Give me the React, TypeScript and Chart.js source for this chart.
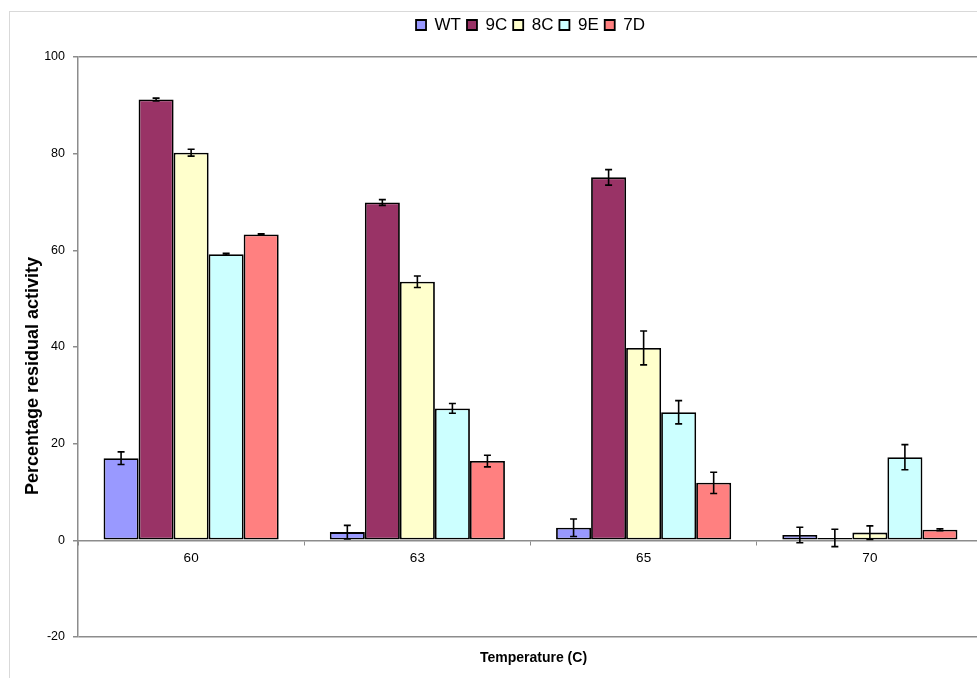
import { useEffect, useRef } from "react";
import { Chart, registerables } from "chart.js";

Chart.register(...registerables);

const categories = ["60", "63", "65", "70"];
const seriesNames = ["WT", "9C", "8C", "9E", "7D"];
const wtValues = [17.0, 1.7, 2.6, 1.1];
const c9Values = [91.2, 69.9, 75.1, 0.5];
const c8Values = [80.2, 53.5, 39.8, 1.6];
const e9Values = [59.2, 27.3, 26.5, 17.2];
const d7Values = [63.3, 16.4, 11.9, 2.2];
const wtErrors = [1.3, 1.4, 1.8, 1.6];
const c9Errors = [0.3, 0.6, 1.6, 1.8];
const c8Errors = [0.7, 1.2, 3.5, 1.4];
const e9Errors = [0.2, 1.0, 2.4, 2.6];
const d7Errors = [0.1, 1.2, 2.2, 0.2];
const seriesColors = ["#9999FF", "#993366", "#FFFFCC", "#CCFFFF", "#FF8080"];
const yMin = -20;
const yMax = 100;
const yStep = 20;
const xTitle = "Temperature (C)";
const yTitle = "Percentage residual activity";

const allValues = [wtValues, c9Values, c8Values, e9Values, d7Values];
const allErrors = [wtErrors, c9Errors, c8Errors, e9Errors, d7Errors];

const FONT = "'Liberation Sans', Arial, Helvetica, sans-serif";
const AXIS_GRAY = "#8c8c8c";

const errorBarPlugin = {
  id: "errorBars",
  afterDatasetsDraw(chart: any) {
    const ctx = chart.ctx;
    const yScale = chart.scales.y;
    ctx.save();
    ctx.strokeStyle = "#000";
    ctx.lineWidth = 1.6;
    chart.data.datasets.forEach((ds: any, di: number) => {
      const meta = chart.getDatasetMeta(di);
      const errs = allErrors[di];
      meta.data.forEach((bar: any, i: number) => {
        const v = ds.data[i];
        const e = errs[i];
        const x = bar.x;
        const yTop = yScale.getPixelForValue(v + e);
        const yBot = yScale.getPixelForValue(v - e);
        const cap = 3.5;
        ctx.beginPath();
        ctx.moveTo(x, yTop);
        ctx.lineTo(x, yBot);
        ctx.moveTo(x - cap, yTop);
        ctx.lineTo(x + cap, yTop);
        ctx.moveTo(x - cap, yBot);
        ctx.lineTo(x + cap, yBot);
        ctx.stroke();
      });
    });
    ctx.restore();
  },
};

const axisTitlePlugin = {
  id: "axisTitles",
  afterDraw(chart: any) {
    const ctx = chart.ctx;
    const area = chart.chartArea;
    ctx.save();
    ctx.fillStyle = "#000";
    ctx.textAlign = "center";
    ctx.textBaseline = "middle";
    ctx.font = `bold 14px ${FONT}`;
    ctx.fillText(xTitle, (area.left + area.right) / 2 + 3, area.bottom + 21);
    ctx.translate(23, (area.top + area.bottom) / 2 + 29);
    ctx.rotate(-Math.PI / 2);
    ctx.font = `bold 18px ${FONT}`;
    ctx.fillText(yTitle, 0, 0);
    ctx.restore();
  },
};

const legendSpacingPlugin = {
  id: "legendSpacing",
  afterInit(chart: any) {
    const legend = chart.legend;
    if (!legend || legend.__patched) return;
    const origFit = legend.fit;
    legend.fit = function () {
      origFit.call(this);
      this.height += 13.5;
    };
    legend.__patched = true;
  },
};

export default function App() {
  const canvasRef = useRef<HTMLCanvasElement | null>(null);

  useEffect(() => {
    if (!canvasRef.current) return;
    Chart.defaults.font.family = FONT;
    const chart = new Chart(canvasRef.current, {
      type: "bar",
      data: {
        labels: categories,
        datasets: seriesNames.map((name, i) => ({
          label: name,
          data: allValues[i],
          backgroundColor: seriesColors[i],
          borderColor: "#000",
          borderWidth: 1.8,
          borderSkipped: false,
          barPercentage: 1,
          categoryPercentage: 0.774,
        })),
      },
      options: {
        responsive: false,
        animation: false,
        devicePixelRatio: 1,
        layout: { padding: { top: 10.5, right: 17, bottom: 53, left: 0 } },
        plugins: {
          legend: {
            position: "top",
            fullSize: false,
            labels: {
              boxWidth: 10,
              boxHeight: 10,
              padding: 6,
              color: "#000",
              font: { size: 17, family: FONT },
            },
          },
          tooltip: { enabled: false },
          title: { display: false },
        },
        scales: {
          x: {
            type: "category",
            position: { y: 0 } as any,
            offset: true,
            grid: {
              offset: true,
              drawOnChartArea: false,
              drawTicks: true,
              tickLength: 4,
              color: AXIS_GRAY,
              lineWidth: 1,
            },
            border: { display: true, color: AXIS_GRAY, width: 1.5 },
            ticks: { color: "#000", font: { size: 13.5, family: FONT }, padding: 6 },
          },
          y: {
            min: yMin,
            max: yMax,
            afterFit(scale: any) {
              scale.width = 68;
            },
            ticks: {
              stepSize: yStep,
              color: "#000",
              font: { size: 12.5, family: FONT },
              padding: 8,
            },
            grid: {
              drawOnChartArea: true,
              drawTicks: true,
              tickLength: 5,
              tickColor: AXIS_GRAY,
              color: (c: any) =>
                c.tick && (c.tick.value === yMax || c.tick.value === yMin) ? AXIS_GRAY : "rgba(0,0,0,0)",
              lineWidth: 1.5,
            },
            border: { display: true, color: AXIS_GRAY, width: 1.5 },
          },
        },
      },
      plugins: [errorBarPlugin, axisTitlePlugin, legendSpacingPlugin],
    });
    return () => chart.destroy();
  }, []);

  return (
    <div
      style={{
        position: "fixed",
        left: 0,
        top: 0,
        width: 977,
        height: 678,
        overflow: "hidden",
        background: "#fff",
      }}
    >
      <div
        style={{
          position: "absolute",
          left: 9,
          top: 11,
          width: 1100,
          height: 800,
          border: "1px solid #d9d9d9",
        }}
      />
      <canvas
        ref={canvasRef}
        width={990}
        height={690}
        style={{ position: "absolute", left: 10, top: 0, width: 990, height: 690 }}
      />
    </div>
  );
}
